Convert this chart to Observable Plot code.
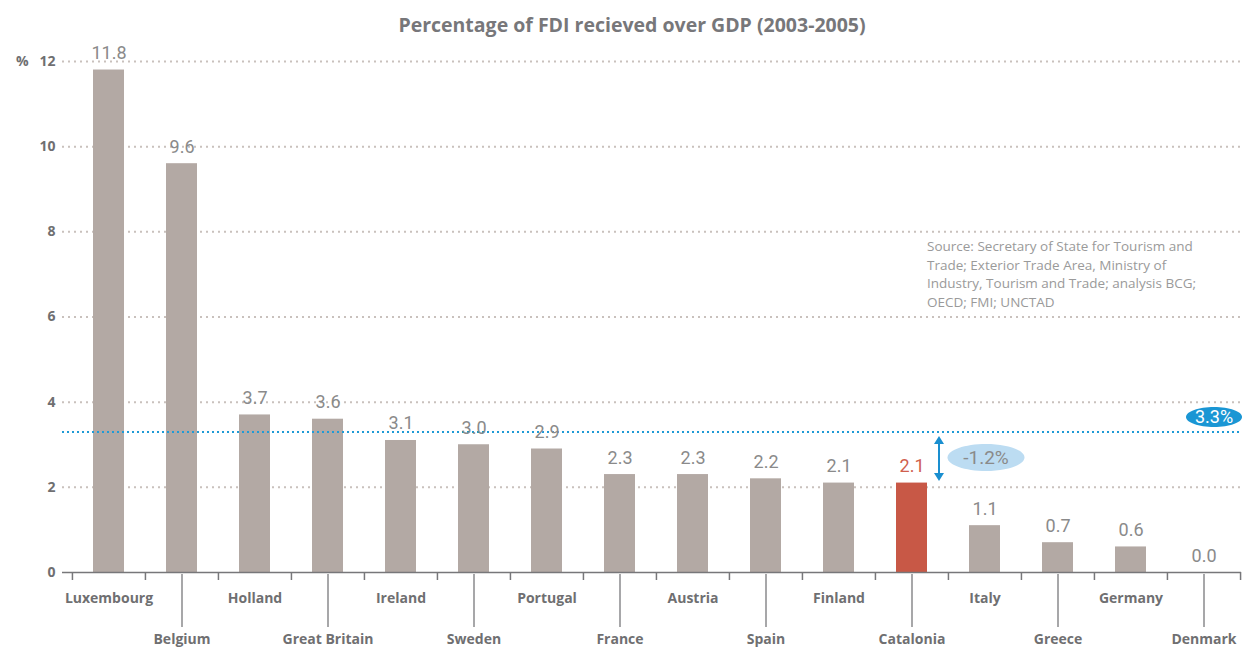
<!DOCTYPE html>
<html><head><meta charset="utf-8">
<script src="https://cdn.jsdelivr.net/npm/d3@7"></script>
<script src="https://cdn.jsdelivr.net/npm/@observablehq/plot@0.6"></script>
<style>body{margin:0;background:#fff;} svg{display:block}</style>
</head><body><div id="chart"></div>
<script>
const countries = ["Luxembourg","Belgium","Holland","Great Britain","Ireland","Sweden","Portugal","France","Austria","Spain","Finland","Catalonia","Italy","Greece","Germany","Denmark"];
const values = [11.8, 9.6, 3.7, 3.6, 3.1, 3.0, 2.9, 2.3, 2.3, 2.2, 2.1, 2.1, 1.1, 0.7, 0.6, 0.0];
const highlight = "Catalonia";
const average = 3.3;
const yTicks = [0, 2, 4, 6, 8, 10, 12];
const title = "Percentage of FDI recieved over GDP (2003-2005)";
const avgLabel = "3.3%";
const gapLabel = "-1.2%";
const sourceText = "Source: Secretary of State for Tourism and\nTrade; Exterior Trade Area, Ministry of\nIndustry, Tourism and Trade; analysis BCG;\nOECD; FMI; UNCTAD";

const data = countries.map((c, i) => ({country: c, value: values[i], row: i % 2}));
const W = 1243, H = 668;
const xRange = [71, 1241];
const step = (xRange[1] - xRange[0]) / countries.length;
const boldFont = "'Open Sans', Roboto, sans-serif";
const lightFont = "Roboto, 'Open Sans', sans-serif";
const grey = "#6f6f71";

function ellipseSymbol(aspect) {
  return {draw(ctx, size) {
    const r = Math.sqrt(size / Math.PI), rx = r * aspect, ry = r, k = 0.5523;
    ctx.moveTo(rx, 0);
    ctx.bezierCurveTo(rx, ry * k, rx * k, ry, 0, ry);
    ctx.bezierCurveTo(-rx * k, ry, -rx, ry * k, -rx, 0);
    ctx.bezierCurveTo(-rx, -ry * k, -rx * k, -ry, 0, -ry);
    ctx.bezierCurveTo(rx * k, -ry, rx, -ry * k, rx, 0);
    ctx.closePath();
  }};
}
function headSymbol(dir) {
  return {draw(ctx, size) {
    const r = Math.sqrt(size / Math.PI);
    ctx.moveTo(0, 0);
    ctx.lineTo(r, -dir * r * 1.6);
    ctx.lineTo(-r, -dir * r * 1.6);
    ctx.closePath();
  }};
}

const last = countries[countries.length - 1];
const hiValue = values[countries.indexOf(highlight)];
const midGap = (average + hiValue) / 2;

const chart = Plot.plot({
  width: W, height: H,
  marginTop: 61, marginBottom: 96, marginLeft: 62, marginRight: 2,
  style: {fontFamily: lightFont, background: "#fff", overflow: "visible"},
  x: {type: "band", domain: countries, range: xRange, paddingInner: 0.58, paddingOuter: 0.29, axis: null},
  y: {domain: [0, 12], axis: null},
  marks: [
    Plot.ruleY(yTicks.filter(d => d > 0), {stroke: "#c9c1bd", strokeWidth: 2, strokeDasharray: "2,4"}),
    Plot.barY(data, {x: "country", y: "value", fill: d => d.country === highlight ? "#c85846" : "#b3a9a4"}),
    Plot.ruleY([average], {stroke: "#1f9ad6", strokeWidth: 2, strokeDasharray: "2,3"}),
    Plot.ruleY([0], {stroke: "#77777a", strokeWidth: 1.5}),
    Plot.ruleX(countries, {x: d => d, y1: 0, y2: 0, dx: -step / 2, insetBottom: -8, stroke: "#77777a", strokeWidth: 1.5}),
    Plot.ruleX([last], {x: d => d, y1: 0, y2: 0, dx: step / 2, insetBottom: -8, stroke: "#77777a", strokeWidth: 1.5}),
    Plot.ruleX(data.filter(d => d.row === 1), {x: "country", y1: 0, y2: 0, insetTop: 2, insetBottom: -55, stroke: "#8a8a8c", strokeWidth: 1.5}),
    Plot.text(data.filter(d => d.row === 0), {x: "country", y: 0, text: "country", dy: 26, fontSize: 14, fontWeight: "bold", fontFamily: boldFont, fill: grey}),
    Plot.text(data.filter(d => d.row === 1), {x: "country", y: 0, text: "country", dy: 67, fontSize: 14, fontWeight: "bold", fontFamily: boldFont, fill: grey}),
    Plot.text(yTicks, {y: d => d, frameAnchor: "left", dx: -7, textAnchor: "end", text: d => String(d), fontSize: 14, fontWeight: "bold", fontFamily: boldFont, fill: grey}),
    Plot.text(["%"], {y: () => 12, frameAnchor: "left", dx: -34, textAnchor: "end", text: d => d, fontSize: 14, fontWeight: "bold", fontFamily: boldFont, fill: grey}),
    Plot.text(data, {x: "country", y: "value", text: d => d.value.toFixed(1), lineAnchor: "bottom", dy: -11, fontSize: 18,
      fill: d => d.country === highlight ? "#d0604e" : "#8a8a8a"}),
    Plot.text([title], {frameAnchor: "top", dx: -20, dy: -43, text: d => d, fontSize: 19.5, fontWeight: "bold", fontFamily: boldFont, fill: "#77777a"}),
    Plot.dot([average], {x: () => last, y: d => d, dx: 10, dy: -15, r: 10, symbol: ellipseSymbol(2.8), fill: "#1a96d4", stroke: "none"}),
    Plot.text([avgLabel], {x: () => last, y: () => average, dx: 10, dy: -15, text: d => d, fontSize: 18, fill: "#fff"}),
    Plot.ruleX([highlight], {x: d => d, y1: average, y2: hiValue, dx: 27, insetTop: 8, insetBottom: 8, stroke: "#1a8fd0", strokeWidth: 2}),
    Plot.dot([average], {x: () => highlight, y: d => d, dx: 27, dy: 4, r: 5, symbol: headSymbol(-1), fill: "#1a8fd0", stroke: "none"}),
    Plot.dot([hiValue], {x: () => highlight, y: d => d, dx: 27, dy: -2, r: 5, symbol: headSymbol(1), fill: "#1a8fd0", stroke: "none"}),
    Plot.dot([midGap], {x: () => highlight, y: d => d, dx: 74, r: 13.5, symbol: ellipseSymbol(2.85), fill: "#bcdcf2", stroke: "none"}),
    Plot.text([gapLabel], {x: () => highlight, y: () => midGap, dx: 74, text: d => d, fontSize: 19, fill: "#8a8a8a"}),
    Plot.text([sourceText], {x: () => highlight, y: () => 7.85, dx: 15, text: d => d, textAnchor: "start", lineAnchor: "top", lineHeight: 1.37, fontSize: 13.5, fontFamily: boldFont, fill: "#9a9a9a"})
  ]
});
document.getElementById("chart").append(chart);
</script>
</body></html>
